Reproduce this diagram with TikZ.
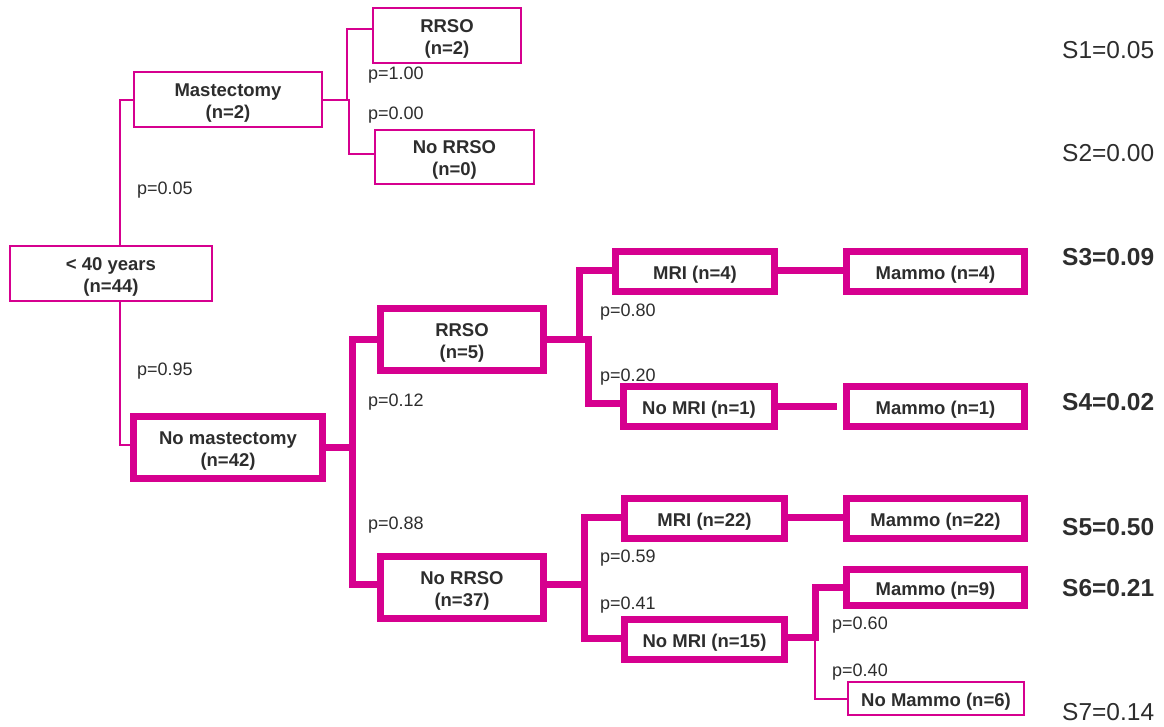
\documentclass[tikz,border=0pt]{standalone}
\usepackage{fontspec}
\setmainfont{Liberation Sans}
\definecolor{mag}{RGB}{214,0,143}
\definecolor{txt}{RGB}{45,45,45}
\newcommand\tstrut{\rule{0pt}{19.8pt}}
\begin{document}
\begin{tikzpicture}[x=1pt,y=-1pt,
  thinbox/.style={draw=mag,line width=2pt,inner sep=0pt,align=center,text=txt,font=\fontsize{18.5}{22}\selectfont\bfseries},
  thickbox/.style={thinbox,line width=7pt},
  thinline/.style={draw=mag,line width=2pt},
  thickline/.style={draw=mag,line width=7pt},
  plab/.style={anchor=base west,inner sep=0pt,text=txt,font=\fontsize{18}{20}\selectfont},
  slab/.style={anchor=base west,inner sep=0pt,text=txt,font=\fontsize{24.5}{26}\selectfont},
  sbold/.style={slab,font=\fontsize{24.5}{26}\selectfont\bfseries},
]
\useasboundingbox (0,0) rectangle (1164,726);

% thin boxes
\node[thinbox,minimum width=202pt,minimum height=55pt] (age) at (111,273.5) {\tstrut< 40 years\\(n=44)};
\node[thinbox,minimum width=188pt,minimum height=55pt] (mast) at (228,99.5) {\tstrut Mastectomy\\(n=2)};
\node[thinbox,minimum width=148pt,minimum height=55pt] (rrsoA) at (447,35.5) {\tstrut RRSO\\(n=2)};
\node[thinbox,minimum width=159pt,minimum height=54pt] (norrsoA) at (454.5,157) {\tstrut No RRSO\\(n=0)};
\node[thinbox,minimum width=176pt,minimum height=33pt] (nomammo) at (936,698.5) {\tstrut No Mammo (n=6)};

% thick boxes
\node[thickbox,minimum width=189pt,minimum height=62pt] (nomast) at (228,447.5) {\tstrut No mastectomy\\(n=42)};
\node[thickbox,minimum width=163pt,minimum height=62pt] (rrsoB) at (462,339.5) {\tstrut RRSO\\(n=5)};
\node[thickbox,minimum width=163pt,minimum height=62pt] (norrsoB) at (462,587.5) {\tstrut No RRSO\\(n=37)};
\node[thickbox,minimum width=159pt,minimum height=40pt] (mri4) at (695,271.5) {\tstrut MRI (n=4)};
\node[thickbox,minimum width=151pt,minimum height=40pt] (nomri1) at (699,406.5) {\tstrut No MRI (n=1)};
\node[thickbox,minimum width=178pt,minimum height=40pt] (mam4) at (935.5,271.5) {\tstrut Mammo (n=4)};
\node[thickbox,minimum width=178pt,minimum height=40pt] (mam1) at (935.5,406.5) {\tstrut Mammo (n=1)};
\node[thickbox,minimum width=160pt,minimum height=40pt] (mri22) at (704.5,518.5) {\tstrut MRI (n=22)};
\node[thickbox,minimum width=160pt,minimum height=40pt] (nomri15) at (704.5,639.5) {\tstrut No MRI (n=15)};
\node[thickbox,minimum width=178pt,minimum height=40pt] (mam22) at (935.5,518.5) {\tstrut Mammo (n=22)};
\node[thickbox,minimum width=178pt,minimum height=36pt] (mam9) at (935.5,587.5) {\tstrut Mammo (n=9)};

% thin connectors
\draw[thinline] ([xshift=9pt]age.north) |- (mast.west);
\draw[thinline] ([xshift=9pt]age.south) |- ([yshift=2.5pt]nomast.west);
\draw[thinline] (mast.east) -- ++(24,0) |- ([yshift=6.5pt]rrsoA.west);
\draw[thinline] (mast.east) -- ++(26,0) |- ([yshift=3pt]norrsoA.west);

% thick connectors
\draw[thickline] (nomast.east) -- ++(26,0) |- (rrsoB.west);
\draw[thickline] (nomast.east) -- ++(26,0) |- ([yshift=3.5pt]norrsoB.west);
\draw[thickline] (rrsoB.east) -- ++(32,0) |- ([yshift=1.5pt]mri4.west);
\draw[thickline] (rrsoB.east) -- ++(41,0) |- ([yshift=3.5pt]nomri1.west);
\draw[thickline] ([yshift=3.5pt]norrsoB.east) -- ++(37,0) |- ([yshift=1.5pt]mri22.west);
\draw[thickline] ([yshift=3.5pt]norrsoB.east) -- ++(37,0) |- ([yshift=1.5pt]nomri15.west);
\draw[thickline] ([yshift=1.5pt]mri4.east) -- ([yshift=1.5pt]mam4.west);
\draw[thickline] (nomri1.east) -- ([xshift=-6pt]mam1.west);
\draw[thickline] ([yshift=1.5pt]mri22.east) -- ([yshift=1.5pt]mam22.west);
\draw[thickline] ([yshift=2.5pt]nomri15.east) -- ++(27,0) coordinate (j3) |- (mam9.west);
\draw[thinline] (j3) |- (nomammo.west);

% probabilities
\node[plab] (p1) at (137,194.4) {p=0.05};
\node[plab] (p2) at (137,375.4) {p=0.95};
\node[plab] (p3) at (368,79.4) {p=1.00};
\node[plab] (p4) at (368,119.4) {p=0.00};
\node[plab] (p5) at (368,406.4) {p=0.12};
\node[plab] (p6) at (368,529.4) {p=0.88};
\node[plab] (p7) at (600,316.4) {p=0.80};
\node[plab] (p8) at (600,381.4) {p=0.20};
\node[plab] (p9) at (600,562.4) {p=0.59};
\node[plab] (p10) at (600,609.4) {p=0.41};
\node[plab] (p11) at (832,629.4) {p=0.60};
\node[plab] (p12) at (832,676.4) {p=0.40};

% outcomes
\node[slab] (s1) at (1062,58.8) {S1=0.05};
\node[slab] (s2) at (1062,161.8) {S2=0.00};
\node[sbold] (s3) at (1062,265.8) {S3=0.09};
\node[sbold] (s4) at (1062,410.8) {S4=0.02};
\node[sbold] (s5) at (1062,535.8) {S5=0.50};
\node[sbold] (s6) at (1062,596.8) {S6=0.21};
\node[slab] (s7) at (1062,720.8) {S7=0.14};
\end{tikzpicture}
\end{document}
